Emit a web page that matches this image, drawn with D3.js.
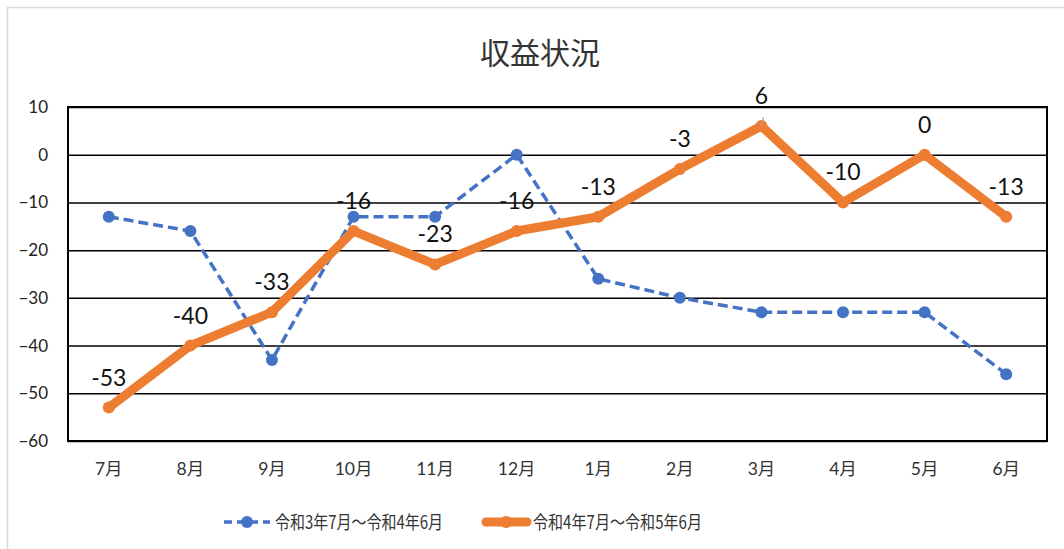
<!DOCTYPE html>
<html><head><meta charset="utf-8">
<script src="https://cdn.jsdelivr.net/npm/d3@7"></script>
<style>
html,body{margin:0;padding:0;background:#fff;}
svg{display:block;}
text{font-family:"Lato","Noto Sans CJK JP",sans-serif;}
</style></head>
<body>
<svg id="c" width="1064" height="549"></svg>
<script>
const categories = ["7月","8月","9月","10月","11月","12月","1月","2月","3月","4月","5月","6月"];
const seriesNames = ["令和3年7月～令和4年6月","令和4年7月～令和5年6月"];
const seriesA = [-13,-16,-43,-13,-13,0,-26,-30,-33,-33,-33,-46];
const seriesB = [-53,-40,-33,-16,-23,-16,-13,-3,6,-10,0,-13];
const yTicks = [10,0,-10,-20,-30,-40,-50,-60];
const title = "収益状況";

const svg = d3.select("#c");
const blue = "#4472c4", orange = "#ed7d31";
const L = 68, R = 1047, T = 107, B = 441;

svg.append("rect").attr("x",7.5).attr("y",7.5).attr("width",1100).attr("height",600)
  .attr("fill","#fff").attr("stroke","#d9d9d9").attr("stroke-width",1.5);

const x = d3.scaleBand().domain(categories).range([L,R]);
const y = d3.scaleLinear().domain([-60,10]).range([B,T]);
const cx = d => x(d) + x.bandwidth()/2;

// gridlines
const yAxis = d3.axisLeft(y).tickValues(yTicks).tickSize(-(R-L)).tickPadding(10).tickFormat(d3.format("d"));
const gy = svg.append("g").attr("transform",`translate(${L},0)`).call(yAxis);
gy.select(".domain").remove();
gy.selectAll(".tick line").attr("stroke","#000").attr("stroke-width",1.5);
gy.selectAll(".tick text").attr("font-size",17).attr("fill","#222").attr("x",-20)
  .style("font-family","Lato");

// plot border
svg.append("rect").attr("x",L).attr("y",T).attr("width",R-L).attr("height",B-T)
  .attr("fill","none").attr("stroke","#000").attr("stroke-width",2);

// x axis labels
const xAxis = d3.axisBottom(x).tickSize(0).tickPadding(22);
const gx = svg.append("g").attr("transform",`translate(0,${B})`).call(xAxis);
gx.select(".domain").remove();
gx.selectAll(".tick text").attr("font-size",17.5).attr("fill","#333");

// title
svg.append("text").attr("x",540).attr("y",64).attr("text-anchor","middle")
  .attr("font-size",30).attr("fill","#333").style("font-family","'Noto Sans CJK JP'").text(title);

const line = d3.line().x((d,i)=>cx(categories[i])).y(d=>y(d));

// series A (blue dashed)
svg.append("path").datum(seriesA).attr("d",line).attr("fill","none")
  .attr("stroke",blue).attr("stroke-width",3.5).attr("stroke-dasharray","10,5");
svg.append("g").selectAll("circle").data(seriesA).join("circle")
  .attr("cx",(d,i)=>cx(categories[i])).attr("cy",d=>y(d)).attr("r",6).attr("fill",blue);

// series B (orange thick)
svg.append("path").datum(seriesB).attr("d",line).attr("fill","none")
  .attr("stroke",orange).attr("stroke-width",9).attr("stroke-linejoin","round").attr("stroke-linecap","round");
svg.append("g").selectAll("circle").data(seriesB).join("circle")
  .attr("cx",(d,i)=>cx(categories[i])).attr("cy",d=>y(d)).attr("r",6).attr("fill",orange);

// leader line for label above plot
seriesB.forEach((d,i)=>{
  if (y(d)-30 < T) {
    svg.append("line").attr("x1",cx(categories[i])+2).attr("y1",y(d)-9)
      .attr("x2",cx(categories[i])).attr("y2",y(d)).attr("stroke","#a6a6a6").attr("stroke-width",1.2);
  }
});

// data labels for B
svg.append("g").selectAll("text").data(seriesB).join("text")
  .attr("x",(d,i)=>cx(categories[i])).attr("y",d=>y(d)-22)
  .attr("text-anchor","middle").attr("font-size",23).attr("fill","#111").text(d=>d);

// legend
const ly = 522;
const lg = svg.append("g");
lg.append("line").attr("x1",224).attr("x2",270).attr("y1",ly).attr("y2",ly)
  .attr("stroke",blue).attr("stroke-width",3.5).attr("stroke-dasharray","8,5");
lg.append("circle").attr("cx",247).attr("cy",ly).attr("r",6).attr("fill",blue);
lg.append("text").attr("x",275).attr("y",ly+7).attr("font-size",18).attr("fill","#333")
  .attr("textLength",168).attr("lengthAdjust","spacingAndGlyphs")
  .style("font-family","'Noto Sans CJK JP'").text(seriesNames[0]);
lg.append("line").attr("x1",486).attr("x2",527).attr("y1",ly).attr("y2",ly)
  .attr("stroke",orange).attr("stroke-width",9).attr("stroke-linecap","round");
lg.append("circle").attr("cx",506).attr("cy",ly).attr("r",6).attr("fill",orange);
lg.append("text").attr("x",533).attr("y",ly+7).attr("font-size",18).attr("fill","#333")
  .attr("textLength",169).attr("lengthAdjust","spacingAndGlyphs")
  .style("font-family","'Noto Sans CJK JP'").text(seriesNames[1]);
</script>
</body></html>
